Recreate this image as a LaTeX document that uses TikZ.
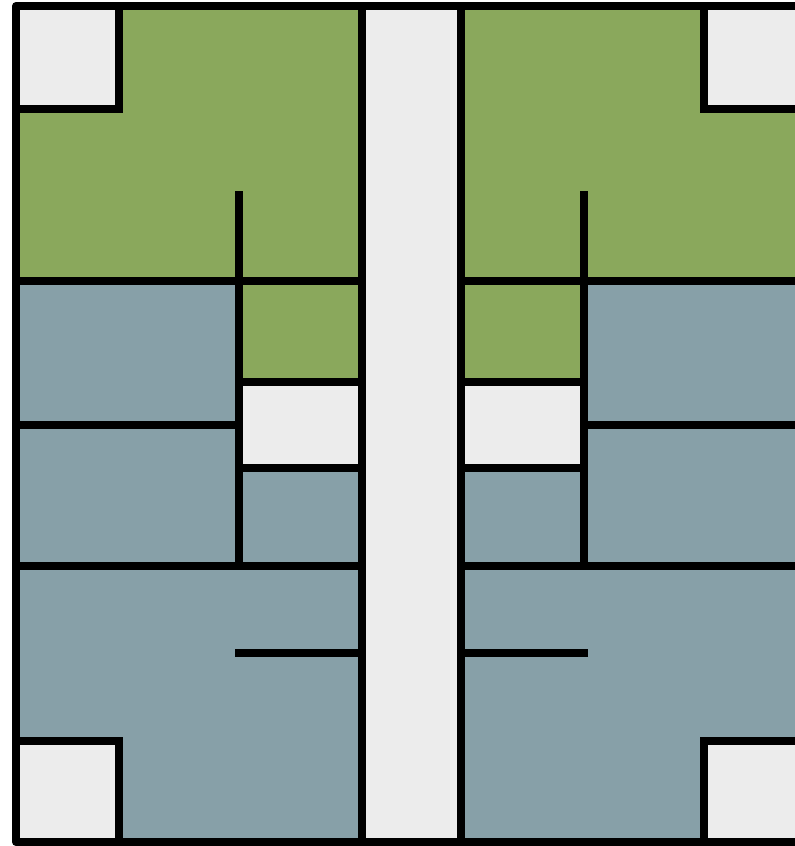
\documentclass[tikz,border=0pt]{standalone}
\usepackage{tikz}
\usepackage{xcolor}

\definecolor{greenroom}{RGB}{138,168,92}
\definecolor{blueroom}{RGB}{135,160,168}
\definecolor{emptyroom}{RGB}{236,236,236}

\begin{document}
\begin{tikzpicture}[x=1pt, y=-1pt,
wall/.style={draw=black, line width=8pt},
green/.style={fill=greenroom},
blue/.style={fill=blueroom},
empty/.style={fill=emptyroom}]
\useasboundingbox (0,0) rectangle (795,846);
% corridor
\fill[empty] (362,6) rectangle (461,842);
% both wings, the right one mirrored
\foreach \s/\m in {0/1, 823/-1} {
\begin{scope}[xshift=\s, xscale=\m]
\fill[blue] (16,6) rectangle (362,842);
\fill[green] (16,6) -- (362,6) -- (362,382) -- (239,382) -- (239,281) -- (16,281) -- cycle;
\fill[empty] (16,6) rectangle (119,109);
\fill[empty] (16,741) rectangle (119,842);
\fill[empty] (239,382) rectangle (362,468);
\draw[wall] (16,109) -- (119,109) -- (119,6);
\draw[wall] (16,741) -- (119,741) -- (119,842);
\draw[wall] (16,281) -- (362,281);
\draw[wall] (239,191) -- (239,566);
\draw[wall] (239,382) -- (362,382);
\draw[wall] (16,425) -- (239,425);
\draw[wall] (239,468) -- (362,468);
\draw[wall] (16,566) -- (362,566);
\draw[wall] (235,653) -- (362,653);
\draw[wall] (362,6) -- (362,842);
\end{scope}
}
% outer walls
\draw[wall, line join=round] (16,6) rectangle (807,842);
\end{tikzpicture}
\end{document}
